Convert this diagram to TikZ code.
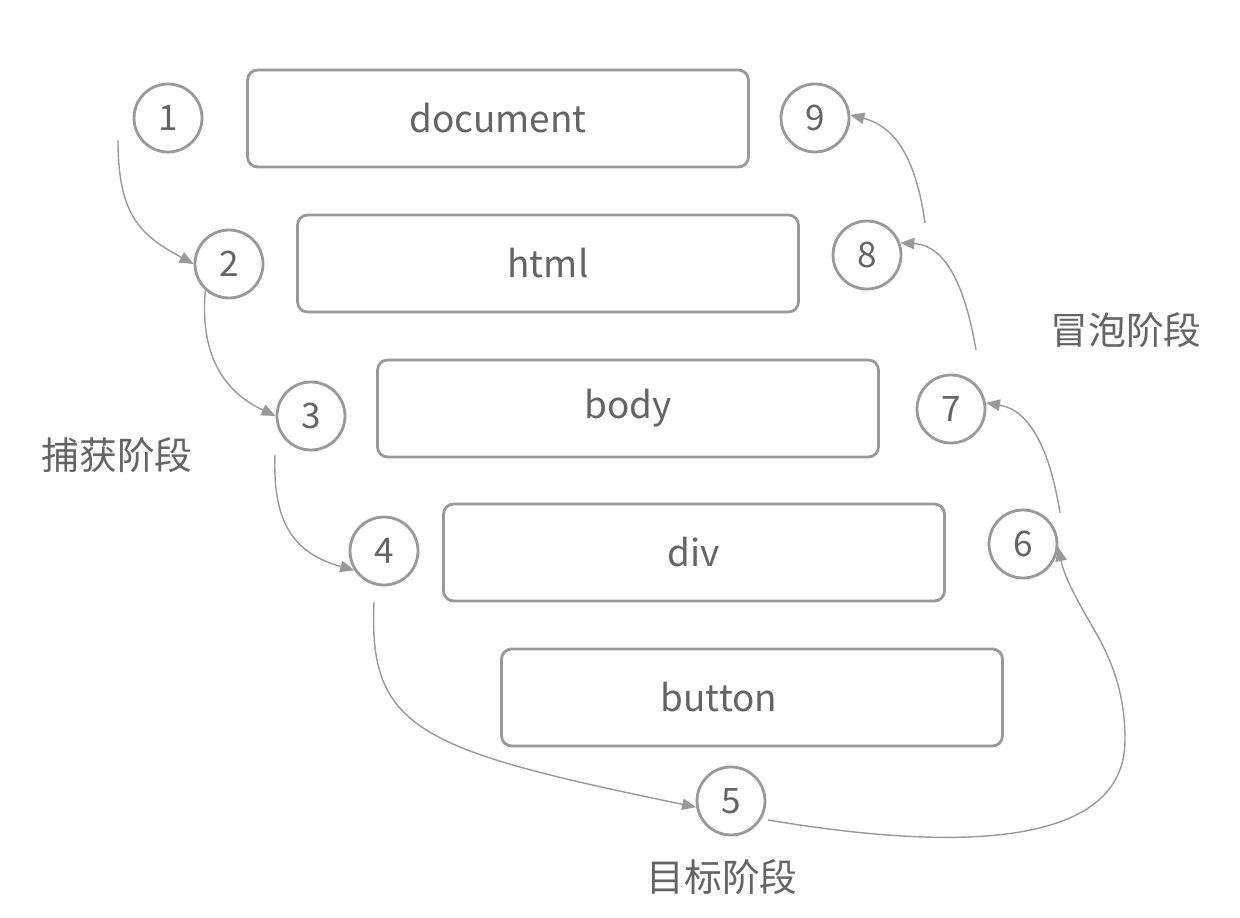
\documentclass[tikz,border=0pt]{standalone}
\usepackage{fontspec}
\setmainfont{Noto Sans CJK SC}
\usetikzlibrary{arrows.meta}
\definecolor{lineC}{RGB}{153,153,153}
\definecolor{textC}{RGB}{100,100,100}
\begin{document}
\begin{tikzpicture}[x=0.02cm,y=-0.02cm,
  elem/.style={draw=lineC, line width=1.6pt, rounded corners=0.2cm,
    minimum width=10.02cm, minimum height=1.94cm, inner sep=0pt,
    text=textC, font=\fontsize{21}{25}\selectfont},
  num/.style={circle, draw=lineC, line width=1.6pt, minimum size=1.36cm,
    inner sep=0pt, text=textC, font=\fontsize{20}{24}\selectfont},
  phase/.style={text=textC, font=\fontsize{21.5}{25}\selectfont, inner sep=0pt},
  flow/.style={draw=lineC, line width=0.8pt,
    -{Triangle[length=8pt,width=6.5pt]}}]
\useasboundingbox (0,0) rectangle (1240,918);

\node[elem] (document) at (498,118.5) {document};
\node[elem] (html) at (548,263.5) {html};
\node[elem] (body) at (628,408.5) {body};
\node[elem] (div) at (694,552.5) {div};
\node[elem] (button) at (752,697.5) {\hspace*{-1.32cm}button};

\node[num] (c1) at (168,118) {1};
\node[num] (c2) at (229,264) {2};
\node[num] (c3) at (311,416) {3};
\node[num] (c4) at (384,551) {4};
\node[num] (c5) at (731,801) {5};
\node[num] (c6) at (1023,544) {6};
\node[num] (c7) at (951,409) {7};
\node[num] (c8) at (867,255) {8};
\node[num] (c9) at (815,118) {9};

\node[phase] (capture) at (117,455) {捕获阶段};
\node[phase] (bubble) at (1126,330) {冒泡阶段};
\node[phase] (target) at (722,877) {目标阶段};

\coordinate (s1) at (118,140);
\coordinate (s3) at (275,455);
\coordinate (s4) at (374,602);
\coordinate (s5) at (768,820);
\coordinate (s6) at (1060,513);
\coordinate (s7) at (976,350);
\coordinate (s8) at (925,223);

\draw[flow] (s1) .. controls (118,215) and (140,235) .. (c2.west);
\draw[flow] (c2.228) .. controls (200,350) and (220,390) .. (c3.west);
\draw[flow] (s3) .. controls (272,530) and (300,555) .. (c4.213);
\draw[flow] (s4) .. controls (368,730) and (420,750) .. (c5.190);
\draw[flow] (s5) .. controls (900,842) and (1125,865) .. (1125,740)
   .. controls (1125,690) and (1110,660) .. (1100,640)
   .. controls (1080,605) and (1065,580) .. (c6.355);
\draw[flow] (s6) .. controls (1050,450) and (1030,410) .. (c7.10);
\draw[flow] (s7) .. controls (965,285) and (945,245) .. (c8.20);
\draw[flow] (s8) .. controls (915,150) and (890,125) .. (c9.5);
\end{tikzpicture}
\end{document}
